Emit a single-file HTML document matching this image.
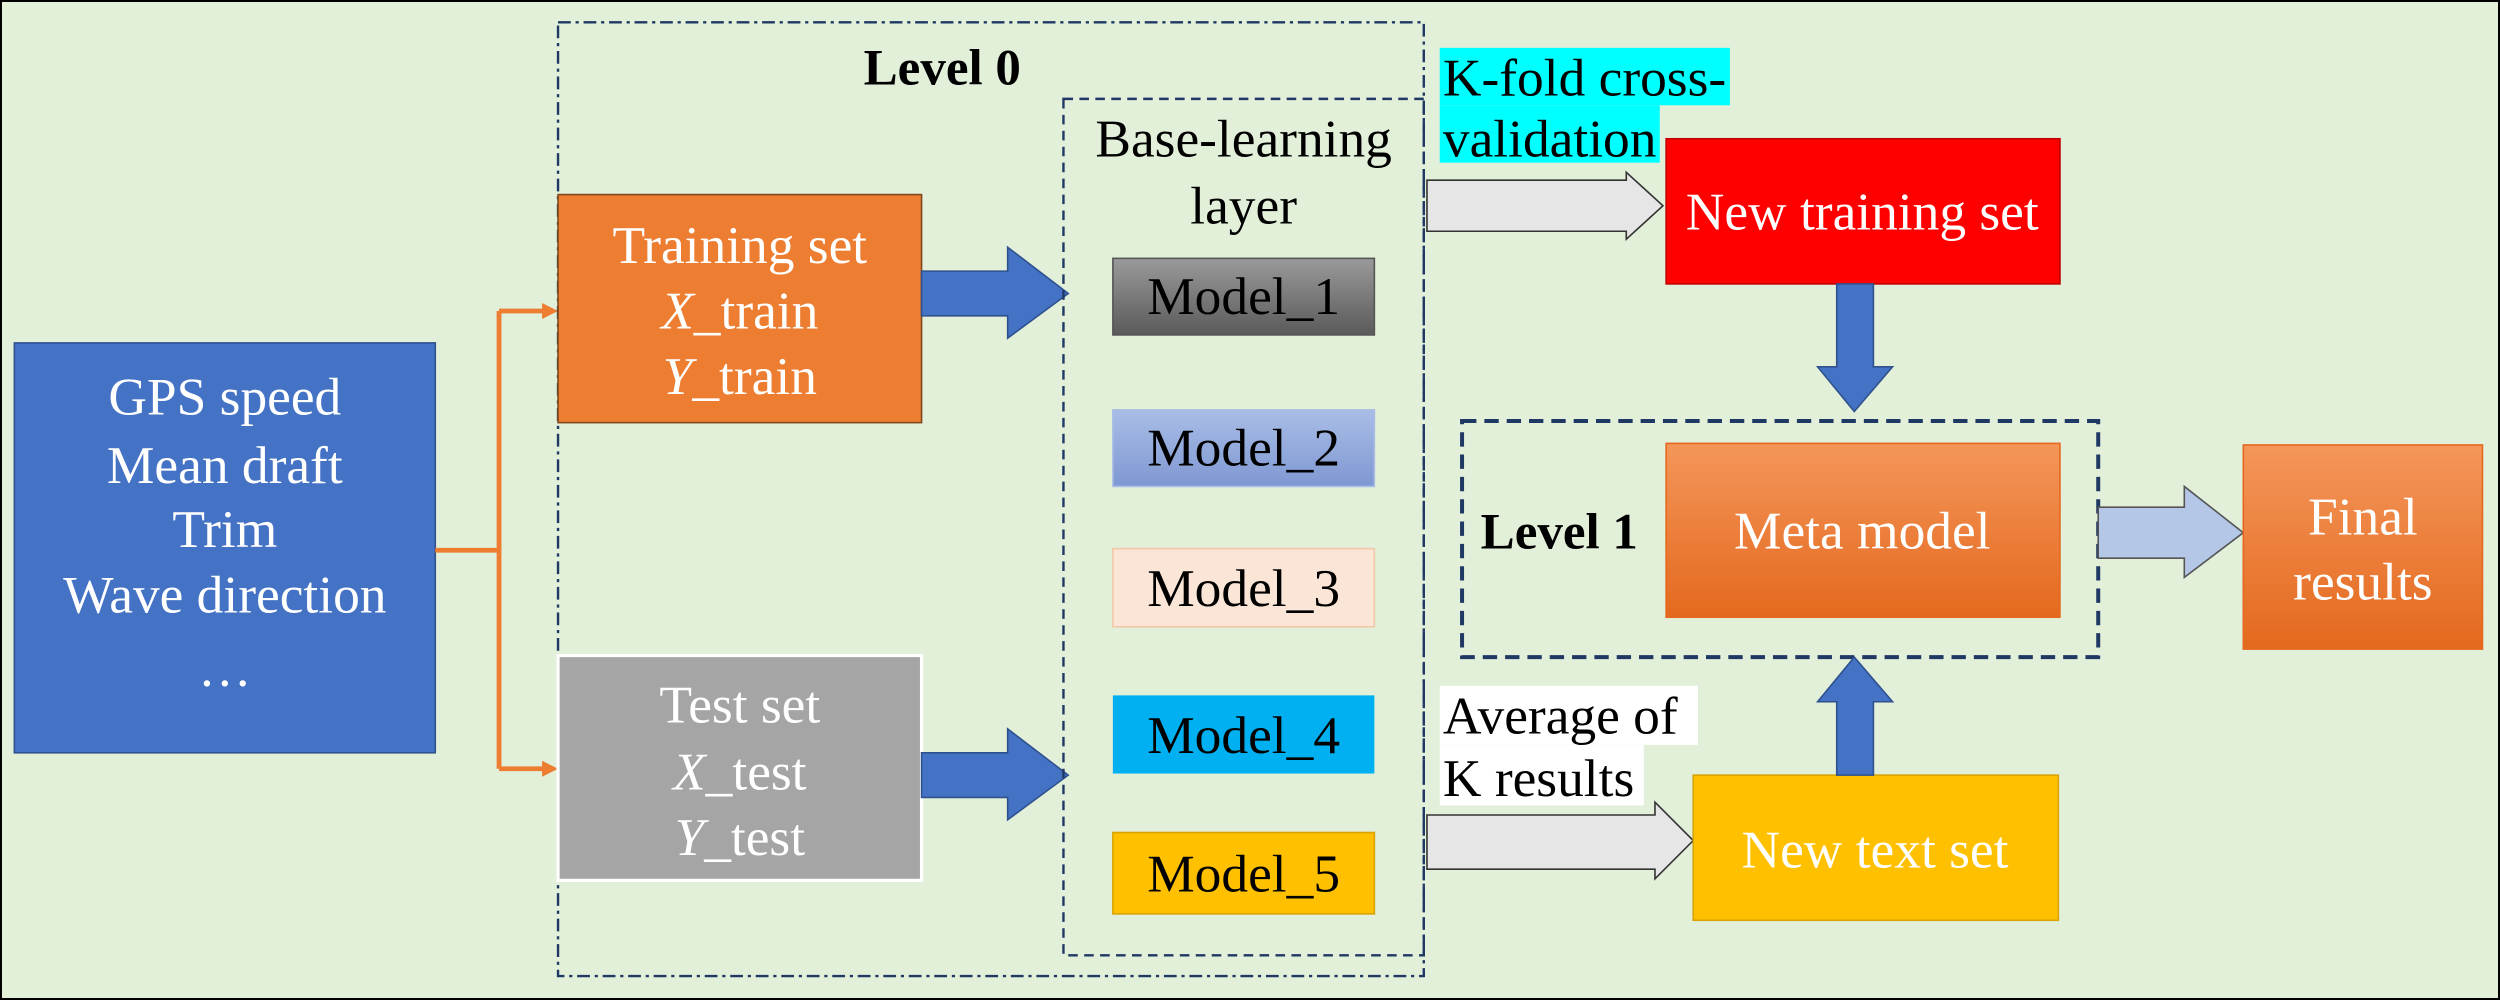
<!DOCTYPE html>
<html><head><style>html,body{margin:0;padding:0;background:#fff}svg{display:block}</style></head><body>
<svg width="2500" height="1000" viewBox="0 0 1568 627" preserveAspectRatio="none" xmlns="http://www.w3.org/2000/svg" font-family="Liberation Serif, serif">
<defs>
<linearGradient id="g1" x1="0" y1="0" x2="0" y2="1"><stop offset="0" stop-color="#9a9a9a"/><stop offset="1" stop-color="#5a5a5a"/></linearGradient>
<linearGradient id="g2" x1="0" y1="0" x2="0" y2="1"><stop offset="0" stop-color="#a9bde6"/><stop offset="1" stop-color="#7f98d2"/></linearGradient>
<linearGradient id="go" x1="0" y1="0" x2="0" y2="1"><stop offset="0" stop-color="#f4965a"/><stop offset="1" stop-color="#e4691e"/></linearGradient>
</defs>
<rect x="0.5" y="0.5" width="1567" height="626" fill="#e2efd9" stroke="#000" stroke-width="1.5"/>
<rect x="9" y="215" width="264" height="257" fill="#4472c4" stroke="#2f528f"/>
<g fill="#fff" font-size="33.5" text-anchor="middle">
<text x="141" y="260">GPS speed</text><text x="141" y="303">Mean draft</text><text x="141" y="343">Trim</text><text x="141" y="384">Wave direction</text><text x="141" y="430">…</text></g>
<g stroke="#ed7d31" stroke-width="3" fill="none"><path d="M273 345H313M313 195V482M313 195H342M313 482H342"/></g>
<path d="M350 195l-10-5v10z M350 482l-10-5v10z" fill="#ed7d31"/>
<rect x="350" y="14" width="543" height="598" fill="none" stroke="#1f3864" stroke-width="1.5" stroke-dasharray="8,3,2,3"/>
<text x="591" y="53" font-size="32" font-weight="bold" text-anchor="middle">Level 0</text>
<rect x="350" y="122" width="228" height="143" fill="#ed7d31" stroke="#7f4a1a"/>
<g fill="#fff" font-size="33.5" text-anchor="middle">
<text x="464" y="165">Training set</text><text x="464" y="206"><tspan font-style="italic">X</tspan>_train</text><text x="464" y="247"><tspan font-style="italic">Y</tspan>_train</text></g>
<rect x="350" y="411" width="228" height="141" fill="#a5a5a5" stroke="#fff" stroke-width="2"/>
<g fill="#fff" font-size="33.5" text-anchor="middle">
<text x="464" y="453">Test set</text><text x="464" y="495"><tspan font-style="italic">X</tspan>_test</text><text x="464" y="536"><tspan font-style="italic">Y</tspan>_test</text></g>
<path d="M578 170H632V155L670 184L632 212V198H578Z" fill="#4472c4" stroke="#2f528f"/>
<path d="M578 472H632V457L670 486L632 514V500H578Z" fill="#4472c4" stroke="#2f528f"/>
<rect x="667" y="62" width="226" height="537" fill="none" stroke="#1f3864" stroke-width="1.5" stroke-dasharray="6,4"/>
<text x="780" y="98" font-size="33.5" text-anchor="middle">Base-learning</text>
<text x="780" y="140" font-size="33.5" text-anchor="middle">layer</text>
<rect x="698" y="162" width="164" height="48" fill="url(#g1)" stroke="#555"/>
<rect x="698" y="257" width="164" height="48" fill="url(#g2)" stroke="#a9bde6"/>
<rect x="698" y="344" width="164" height="49" fill="#fbe5d6" stroke="#f4c7a8"/>
<rect x="698" y="436" width="164" height="49" fill="#00b0f0"/>
<rect x="698" y="522" width="164" height="51" fill="#ffc000" stroke="#d9a300"/>
<g font-size="33.5" text-anchor="middle">
<text x="780" y="197">Model_1</text><text x="780" y="292">Model_2</text><text x="780" y="380">Model_3</text><text x="780" y="472">Model_4</text><text x="780" y="559">Model_5</text></g>
<rect x="903" y="30" width="182" height="36" fill="#00ffff"/>
<rect x="903" y="66" width="138" height="36" fill="#00ffff"/>
<text x="905" y="60" font-size="33.5">K-fold cross-</text>
<text x="905" y="98" font-size="33.5">validation</text>
<path d="M895 113H1020V108L1043 129L1020 150V145H895Z" fill="#e7e6e6" stroke="#333"/>
<rect x="1045" y="87" width="247" height="91" fill="#ff0000" stroke="#c00000"/>
<text x="1168" y="144" font-size="33.5" fill="#fff" text-anchor="middle">New training set</text>
<path d="M1152 178H1175V230H1187L1163 258L1140 230H1152Z" fill="#4472c4" stroke="#2f528f"/>
<rect x="917" y="264" width="399" height="148" fill="none" stroke="#1f3864" stroke-width="2.5" stroke-dasharray="9,5"/>
<text x="978" y="344" font-size="32" font-weight="bold" text-anchor="middle">Level 1</text>
<rect x="1045" y="278" width="247" height="109" fill="url(#go)" stroke="#e4691e"/>
<text x="1168" y="344" font-size="33.5" fill="#fff" text-anchor="middle">Meta model</text>
<path d="M1316 318H1370V305L1407 334L1370 362V350H1316Z" fill="#b4c7e7" stroke="#555"/>
<rect x="1407" y="279" width="150" height="128" fill="url(#go)" stroke="#e4691e"/>
<text x="1482" y="335" font-size="33.5" fill="#fff" text-anchor="middle">Final</text>
<text x="1482" y="376" font-size="33.5" fill="#fff" text-anchor="middle">results</text>
<rect x="903" y="430" width="162" height="37" fill="#fff"/>
<rect x="903" y="467" width="128" height="38" fill="#fff"/>
<text x="905" y="460" font-size="33.5">Average of</text>
<text x="905" y="499" font-size="33.5">K results</text>
<path d="M895 511H1038V503L1062 527L1038 551V545H895Z" fill="#e7e6e6" stroke="#333"/>
<rect x="1062" y="486" width="229" height="91" fill="#ffc000" stroke="#d9a300"/>
<text x="1176" y="544" font-size="33.5" fill="#fff" text-anchor="middle">New text set</text>
<path d="M1152 486H1175V440H1187L1163 412L1140 440H1152Z" fill="#4472c4" stroke="#2f528f"/>
</svg>
</body></html>
